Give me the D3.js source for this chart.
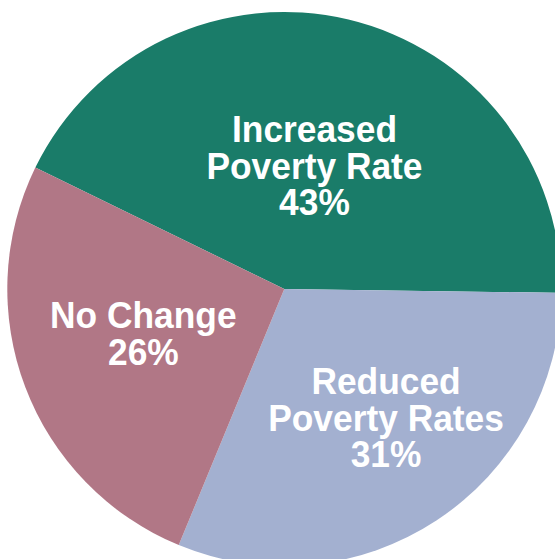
<!DOCTYPE html>
<html>
<head>
<meta charset="utf-8">
<script src="https://cdn.jsdelivr.net/npm/d3@7"></script>
<style>
  html, body { margin: 0; padding: 0; background: #ffffff; }
  svg { display: block; }
</style>
</head>
<body>
<svg id="chart" width="555" height="559"></svg>
<script>
// Share of areas by change in poverty rate
const categories = ["Increased Poverty Rate", "Reduced Poverty Rates", "No Change"];
const labelLines = [["Increased", "Poverty Rate"], ["Reduced", "Poverty Rates"], ["No Change"]];
const shares = [43, 31, 26];
const colors = ["#1a7c69", "#a3b0d0", "#b17786"];

const width = 555, height = 559;
const cx = 284.3, cy = 289, radius = 277;
const deg = Math.PI / 180;

// Label placement per slice: radial fraction and angular nudge (degrees)
const labelPlacement = {
  "Increased Poverty Rate": { r: 0.46, nudge: 0.3 },
  "Reduced Poverty Rates": { r: 0.59, nudge: -5.1 },
  "No Change": { r: 0.533, nudge: 3.5 }
};

const svg = d3.select("#chart");
const g = svg.append("g").attr("transform", `translate(${cx},${cy})`);

const pie = d3.pie()
  .sort(null)
  .value(d => d.value)
  .startAngle(-64 * deg)
  .endAngle(296 * deg);

const data = categories.map((c, i) => ({
  name: c, value: shares[i], color: colors[i], lines: labelLines[i]
}));
const arcs = pie(data);

const arc = d3.arc().innerRadius(0).outerRadius(radius);

g.selectAll("path.slice")
  .data(arcs)
  .join("path")
  .attr("class", "slice")
  .attr("d", arc)
  .attr("fill", d => d.data.color);

// Labels use a slightly tall glyph shape
const sx = 1.01, sy = 1.08;
const lineStep = 36.5 / sy;
const capHalf = 13.7 / sy;
const fmt = d3.format(".0%");

const labels = g.selectAll("g.label")
  .data(arcs)
  .join("g")
  .attr("class", "label")
  .attr("transform", d => {
    const p = labelPlacement[d.data.name];
    const a = (d.startAngle + d.endAngle) / 2 + p.nudge * deg;
    const r = p.r * radius;
    return `translate(${r * Math.sin(a)},${-r * Math.cos(a)}) scale(${sx},${sy})`;
  });

labels.each(function(d) {
  const lines = d.data.lines.concat([fmt(d.data.value / 100)]);
  const n = lines.length;
  const t = d3.select(this).append("text")
    .attr("text-anchor", "middle")
    .attr("fill", "#ffffff")
    .attr("font-family", "'Liberation Sans', Arial, sans-serif")
    .attr("font-weight", "bold")
    .attr("font-size", 35);
  lines.forEach((s, i) => {
    t.append("tspan")
      .attr("x", 0)
      .attr("y", (i - (n - 1) / 2) * lineStep + capHalf)
      .text(s);
  });
});
</script>
</body>
</html>
